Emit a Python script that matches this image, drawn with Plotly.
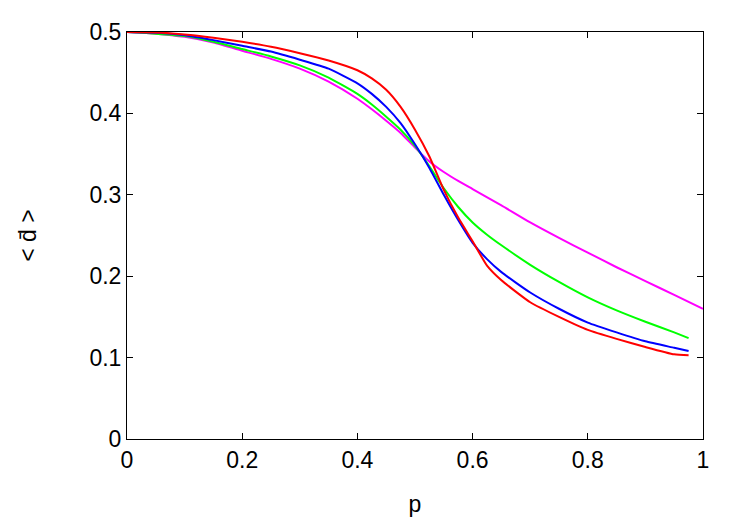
import plotly.graph_objects as go

p_main = [0, 0.05, 0.1, 0.15, 0.2, 0.25, 0.3, 0.35, 0.4, 0.425, 0.45, 0.475, 0.5, 0.525,
          0.55, 0.575, 0.6, 0.625, 0.65, 0.7, 0.75, 0.8, 0.85, 0.9, 0.95, 0.975]
p_mag = [0, 0.05, 0.1, 0.15, 0.2, 0.25, 0.3, 0.35, 0.4, 0.425, 0.45, 0.475, 0.5, 0.525,
         0.55, 0.575, 0.6, 0.65, 0.7, 0.75, 0.8, 0.85, 0.9, 0.95, 1.0]

d_red = [0.5, 0.4995, 0.497, 0.493, 0.488, 0.482, 0.474, 0.465, 0.453, 0.443, 0.429, 0.408,
         0.380, 0.347, 0.306, 0.272, 0.243, 0.213, 0.195, 0.168, 0.150, 0.134, 0.123,
         0.113, 0.104, 0.103]
d_blue = [0.5, 0.499, 0.496, 0.490, 0.483, 0.476, 0.466, 0.455, 0.437, 0.424, 0.408, 0.388,
          0.362, 0.333, 0.300, 0.269, 0.241, 0.221, 0.205, 0.180, 0.160, 0.143, 0.131,
          0.120, 0.112, 0.108]
d_green = [0.5, 0.498, 0.495, 0.488, 0.479, 0.470, 0.459, 0.444, 0.424, 0.411, 0.396, 0.380,
           0.360, 0.335, 0.308, 0.285, 0.266, 0.251, 0.238, 0.214, 0.193, 0.174, 0.158,
           0.144, 0.131, 0.124]
d_mag = [0.5, 0.498, 0.494, 0.487, 0.477, 0.467, 0.455, 0.439, 0.418, 0.405, 0.391, 0.376,
         0.358, 0.341, 0.328, 0.317, 0.307, 0.287, 0.266, 0.247, 0.229, 0.211, 0.194,
         0.177, 0.160]

x_ticks = [0, 0.2, 0.4, 0.6, 0.8, 1]
x_tick_text = ["0", "0.2", "0.4", "0.6", "0.8", "1"]
y_ticks = [0, 0.1, 0.2, 0.3, 0.4, 0.5]
y_tick_text = ["0", "0.1", "0.2", "0.3", "0.4", "0.5"]

FONT = "Liberation Sans, Arial, sans-serif"

fig = go.Figure()
for x, y, c in [(p_mag, d_mag, "#ff00ff"), (p_main, d_green, "#00ff00"),
                (p_main, d_blue, "#0000ff"), (p_main, d_red, "#ff0000")]:
    fig.add_trace(go.Scatter(x=x, y=y, mode="lines",
                             line=dict(color=c, width=2, shape="spline", smoothing=0.5),
                             showlegend=False))

axis_common = dict(showgrid=False, zeroline=False, showline=True, linecolor="black",
                   linewidth=1, mirror="ticks", ticks="inside", ticklen=6,
                   tickcolor="black", tickwidth=1,
                   tickfont=dict(family=FONT, size=23, color="black"))

fig.update_layout(
    width=750, height=525,
    margin=dict(l=127, r=47, t=32, b=84),
    paper_bgcolor="white", plot_bgcolor="white",
    xaxis=dict(range=[0, 1], tickvals=x_ticks, ticktext=x_tick_text,
               title=dict(text="p", standoff=24, font=dict(family=FONT, size=23, color="black")),
               **axis_common),
    yaxis=dict(range=[0, 0.5], tickvals=y_ticks, ticktext=y_tick_text,
               title=dict(text="< d\u0304 >", standoff=46, font=dict(family=FONT, size=23, color="black")),
               **axis_common),
)

fig.write_html("out.html")
